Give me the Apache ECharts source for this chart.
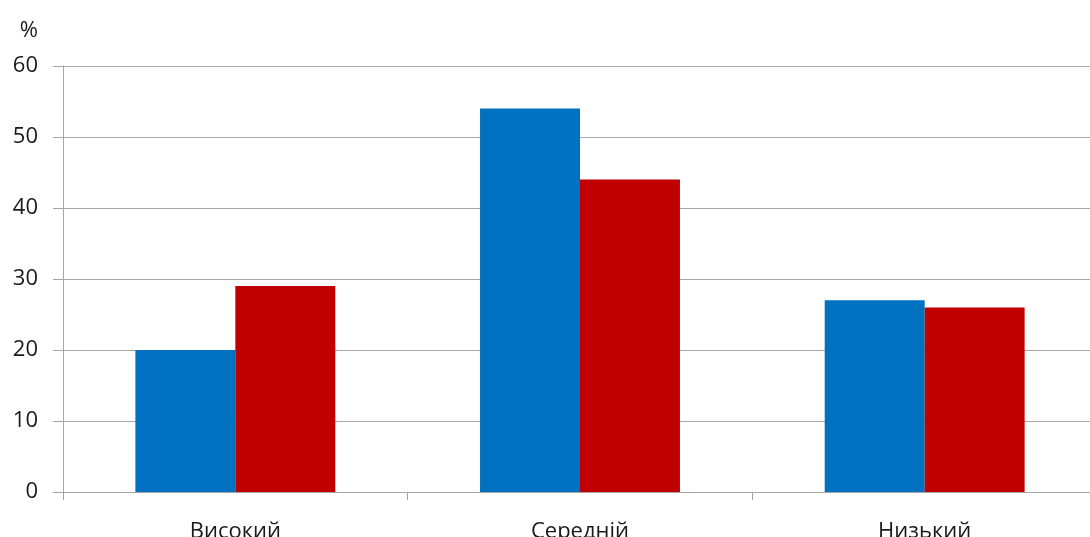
<!DOCTYPE html>
<html><head><meta charset="utf-8">
<script src="https://cdn.jsdelivr.net/npm/echarts@6/dist/echarts.min.js"></script>
<style>html,body{margin:0;padding:0;background:#fff}#c{width:1090px;height:537px}</style>
</head><body><div id="c"></div>
<script>
const categories = ['Високий', 'Середній', 'Низький'];
const seriesBlue = [20, 54, 27];
const seriesRed = [29, 44, 26];
const yTicks = [0, 10, 20, 30, 40, 50, 60];

const chart = echarts.init(document.getElementById('c'));
const font = '"Open Sans", "Noto Sans", sans-serif';
chart.setOption({
  animation: false,
  backgroundColor: '#fff',
  grid: { left: 63, right: -7, top: 66, bottom: 45, outerBoundsMode: 'none', containLabel: false },
  xAxis: {
    type: 'category', data: categories,
    axisLine: { lineStyle: { color: '#a6a6a6', width: 1 } },
    axisTick: { show: true, length: 8, lineStyle: { color: '#a6a6a6' } },
    axisLabel: { color: '#1a1a1a', fontSize: 22, fontFamily: font, margin: 29 }
  },
  yAxis: {
    type: 'value', min: yTicks[0], max: yTicks[yTicks.length - 1], interval: 10,
    name: '%', nameLocation: 'end', nameGap: 24,
    nameTextStyle: { color: '#1a1a1a', fontSize: 22, fontFamily: font, align: 'right', padding: [0, 25, 0, 0] },
    axisLine: { show: true, lineStyle: { color: '#a6a6a6' } },
    axisTick: { show: true, length: 10, lineStyle: { color: '#a6a6a6' } },
    splitLine: { lineStyle: { color: '#a6a6a6' } },
    axisLabel: { color: '#1a1a1a', fontSize: 22, fontFamily: font, margin: 25 }
  },
  series: [
    { type: 'bar', data: seriesBlue, itemStyle: { color: '#0070C0' }, barGap: '0%', barCategoryGap: '42%' },
    { type: 'bar', data: seriesRed, itemStyle: { color: '#C00000' }, barGap: '0%', barCategoryGap: '42%' }
  ]
});
</script></body></html>
